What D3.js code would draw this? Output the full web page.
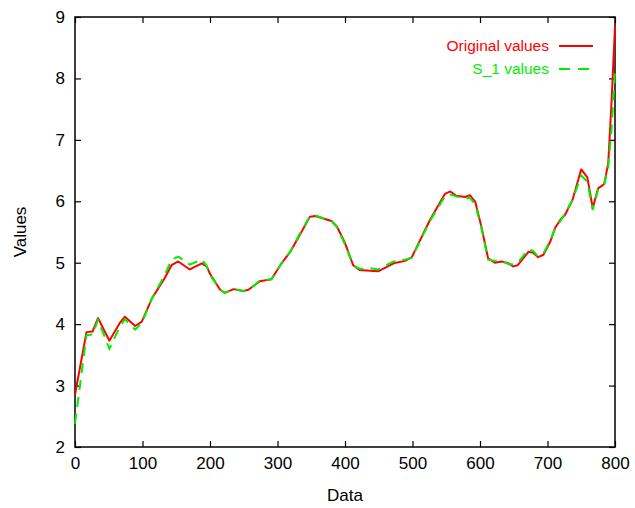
<!DOCTYPE html>
<html><head><meta charset="utf-8">
<script src="https://cdn.jsdelivr.net/npm/d3@7"></script>
<style>body{margin:0;background:#fff}svg{display:block}text{font-family:"Liberation Sans",Arial,sans-serif}</style>
</head><body>
<svg id="c" width="635" height="508"></svg>
<script>
const xData = [0,17,26,34,51,67,74,89,99,114,133,143,153,170,188,195,200,215,222,235,249,257,274,291,306,319,333,348,356,368,380,388,400,412,422,437,449,472,489,499,526,548,556,565,578,585,593,602,612,622,632,642,649,656,672,679,686,694,704,711,719,726,737,750,759,767,775,784,790,795,800];
const originalValues = [2.85,3.87,3.88,4.10,3.73,4.03,4.12,3.97,4.04,4.42,4.75,4.96,5.02,4.89,4.99,4.94,4.82,4.56,4.51,4.57,4.54,4.56,4.70,4.73,4.99,5.18,5.45,5.75,5.76,5.72,5.68,5.59,5.32,4.96,4.88,4.87,4.86,4.99,5.03,5.09,5.70,6.12,6.16,6.09,6.07,6.10,5.99,5.59,5.07,5.00,5.02,4.99,4.94,4.96,5.18,5.16,5.09,5.13,5.34,5.56,5.70,5.78,6.02,6.52,6.39,5.89,6.21,6.28,6.62,7.65,8.85];
const s1Values = [2.38,3.82,3.83,4.07,3.60,3.97,4.08,3.91,4.02,4.42,4.80,5.05,5.10,4.97,5.05,4.95,4.80,4.56,4.51,4.57,4.54,4.55,4.71,4.73,4.99,5.18,5.47,5.76,5.77,5.72,5.68,5.58,5.30,4.96,4.90,4.91,4.89,5.02,5.05,5.08,5.68,6.08,6.11,6.08,6.04,6.06,5.95,5.57,5.05,5.03,5.03,4.98,4.97,5.00,5.22,5.19,5.10,5.15,5.36,5.55,5.68,5.80,6.02,6.42,6.32,5.86,6.20,6.28,6.55,7.20,8.10];
const xTicks = [0,100,200,300,400,500,600,700,800];
const yTicks = [2,3,4,5,6,7,8,9];
const seriesNames = ["Original values","S_1 values"];
const seriesColors = ["#ff0000","#00ee00"];

const svg = d3.select("#c");
const L=75,R=615,T=17,B=447;
const x = d3.scaleLinear().domain([0,800]).range([L,R]);
const y = d3.scaleLinear().domain([2,9]).range([B,T]);

svg.append("rect").attr("x",L).attr("y",T).attr("width",R-L).attr("height",B-T)
  .attr("fill","none").attr("stroke","#000").attr("stroke-width",1.5);

const ax = (g)=>g.selectAll(".domain").remove();
svg.append("g").attr("transform",`translate(0,${B})`)
  .call(d3.axisBottom(x).tickValues(xTicks).tickSize(-6).tickPadding(10).tickFormat(d3.format("d"))).call(ax);
svg.append("g").attr("transform",`translate(0,${T})`)
  .call(d3.axisTop(x).tickValues(xTicks).tickSize(-6).tickFormat("")).call(ax);
svg.append("g").attr("transform",`translate(${L},0)`)
  .call(d3.axisLeft(y).tickValues(yTicks).tickSize(-6).tickPadding(10).tickFormat(d3.format("d"))).call(ax);
svg.append("g").attr("transform",`translate(${R},0)`)
  .call(d3.axisRight(y).tickValues(yTicks).tickSize(-6).tickFormat("")).call(ax);
svg.selectAll(".tick line").attr("stroke","#000").attr("stroke-width",1.2);
svg.selectAll(".tick text").attr("font-size",17).attr("fill","#000").style("font-family","'Liberation Sans',Arial,sans-serif");

svg.append("text").attr("x",(L+R)/2).attr("y",501).attr("text-anchor","middle").attr("font-size",17).text("Data");
svg.append("text").attr("transform",`translate(26,${(T+B)/2}) rotate(-90)`).attr("text-anchor","middle").attr("font-size",17).text("Values");

const line = d3.line().x((d,i)=>x(xData[i])).y(d=>y(d));
svg.append("path").datum(originalValues).attr("d",line).attr("fill","none")
  .attr("stroke",seriesColors[0]).attr("stroke-width",2).attr("stroke-linejoin","round");
svg.append("path").datum(s1Values).attr("d",line).attr("fill","none")
  .attr("stroke",seriesColors[1]).attr("stroke-width",2).attr("stroke-dasharray","10,7");

seriesNames.forEach((n,i)=>{
  const yy = 46 + i*23;
  svg.append("text").attr("x",549).attr("y",yy+5).attr("text-anchor","end").attr("font-size",15.5)
    .attr("fill",seriesColors[i]).text(n);
  svg.append("line").attr("x1",559).attr("x2",593).attr("y1",yy).attr("y2",yy)
    .attr("stroke",seriesColors[i]).attr("stroke-width",2).attr("stroke-dasharray",i?"11,8":null);
});
</script>
</body></html>
